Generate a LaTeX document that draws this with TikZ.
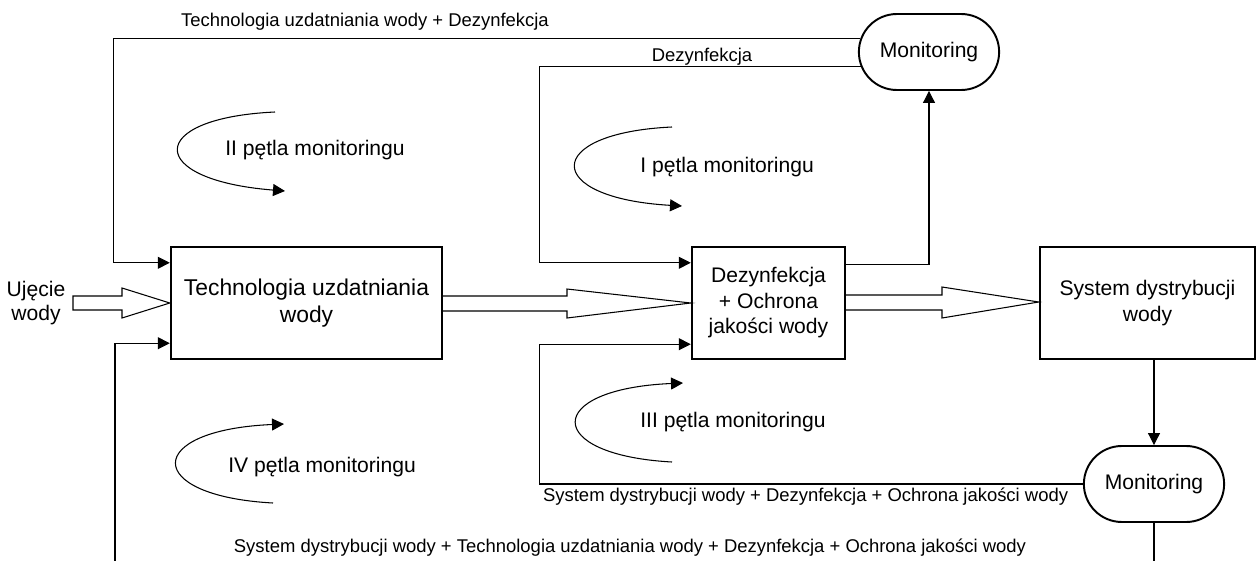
\documentclass[tikz,border=0pt]{standalone}
\usepackage{fontspec}
\setmainfont{Liberation Sans}
\usetikzlibrary{arrows.meta,calc,shapes.misc}
\begin{document}
\begin{tikzpicture}[x=0.02cm,y=-0.02cm,
  blok/.style={draw, line width=1.4pt, align=center, minimum height=2.24cm, inner sep=2pt, font=\fontsize{12}{14.5}\selectfont},
  monit/.style={draw, rounded rectangle, line width=1.1pt, minimum width=3.04cm, minimum height=1.52cm, font=\fontsize{12}{14}\selectfont},
  opis/.style={inner sep=1pt, font=\fontsize{10.5}{12.5}\selectfont},
  petla/.style={anchor=west, inner sep=0pt, font=\fontsize{12}{14}\selectfont},
  strz/.style={line width=0.6pt, -{Triangle[length=0.24cm,width=0.24cm]}},
  linia/.style={line width=0.6pt},
  pusta/.style={line width=0.6pt, line join=miter}]
\useasboundingbox (0,0) rectangle (1258,561);
% bloki
\node[blok, minimum width=5.42cm, font=\fontsize{13}{15}\selectfont] (tech) at (306.5,303) {Technologia uzdatniania\\wody};
\node[blok, minimum width=3.06cm] (dez) at (768.5,303) {Dezynfekcja\\+ Ochrona\\jakości wody};
\node[blok, minimum width=4.30cm] (sys) at (1147.5,303) {System dystrybucji\\wody};
\node[monit] (mon1) at (929,52) {Monitoring};
\node[monit] (mon2) at (1154,484) {Monitoring};
\node[align=center, inner sep=0pt, font=\fontsize{12}{13.5}\selectfont] (ujecie) at (36,303) {Ujęcie\\wody};
% opisy
\node[opis] (ltop) at (365,22) {Technologia uzdatniania wody + Dezynfekcja};
\node[opis] (ldez) at (702,57) {Dezynfekcja};
\node[opis, anchor=west] (lsys) at (541,497) {System dystrybucji wody + Dezynfekcja + Ochrona jakości wody};
\node[opis] (lbot) at (630,548) {System dystrybucji wody + Technologia uzdatniania wody + Dezynfekcja + Ochrona jakości wody};
\node[petla] (p2) at (225,150) {II pętla monitoringu};
\node[petla] (p1) at (640,167) {I pętla monitoringu};
\node[petla] (p3) at (640,422) {III pętla monitoringu};
\node[petla] (p4) at (228,467) {IV pętla monitoringu};
\coordinate (dol1) at (115,561);
\coordinate (dol2) at (1154,561);
% strzalki puste
\draw[pusta] (73,296) -- (122,296) -- (122,288) -- (tech.west) -- (122,318) -- (122,310) -- (73,310) -- cycle;
\draw[pusta] ($(tech.east)+(0,-7)$) -- (567,296) -- (567,289) -- (dez.west) -- (567,318) -- (567,311) -- ($(tech.east)+(0,8)$);
\draw[pusta] ($(dez.east)+(0,-8)$) -- (942,295) -- (942,287) -- ($(sys.west)+(0,-1)$) -- (942,318) -- (942,310) -- ($(dez.east)+(0,7)$);
% petle
\draw[strz] (mon1.169) -| ($(tech.north west)+(-56,17)$) -- ($(tech.north west)+(0,17)$);
\draw[strz] (mon1.192) -| ($(dez.north west)+(-151,17)$) -- ($(dez.north west)+(0,17)$);
\draw[strz] ($(dez.north east)+(0,19)$) -| (mon1.south);
\draw[strz] (mon2.north |- sys.south) -- (mon2.north);
\draw[strz] (mon2.west) -| ($(dez.south west)+(-151,-16)$) -- ($(dez.south west)+(0,-16)$);
\draw[linia] (mon2.south) -- (dol2);
\draw[strz] (dol1) |- ($(tech.south west)+(0,-17)$);
% strzalki okragle
\draw[strz] (275,112) .. controls (145,118) and (145,180) .. (285,191);
\draw[strz] (672,127) .. controls (542,133) and (542,198) .. (682,206);
\draw[strz] (672,462) .. controls (543,455) and (543,389) .. (683,383);
\draw[strz] (273,503) .. controls (143,496) and (143,430) .. (284,424);
\end{tikzpicture}
\end{document}
